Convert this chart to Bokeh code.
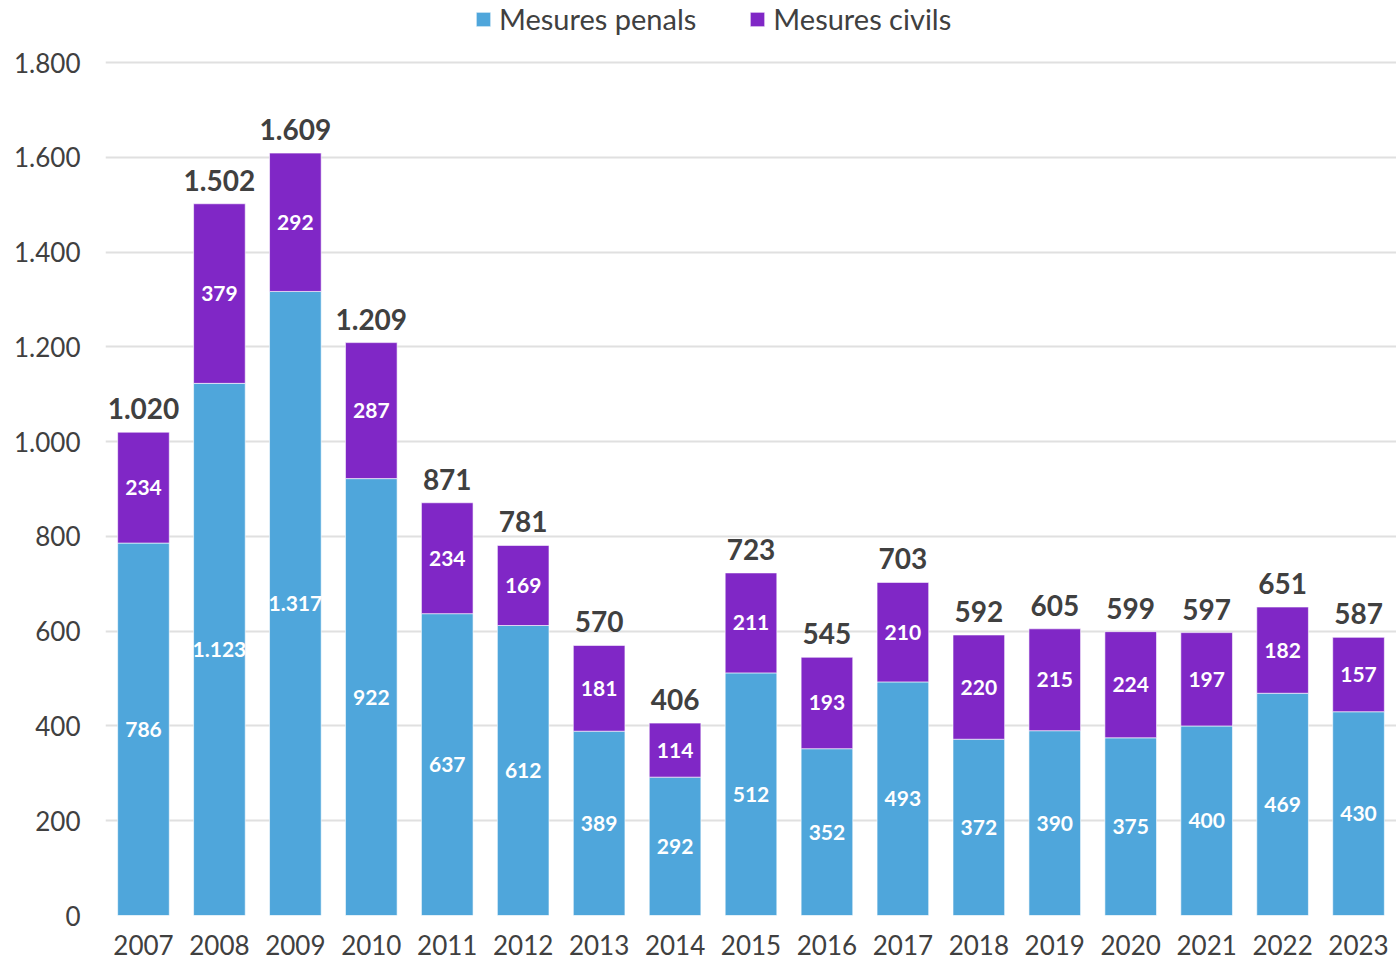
from bokeh.plotting import figure
from bokeh.models import ColumnDataSource, Legend, LegendItem, FixedTicker, FactorRange, Range1d
from bokeh.core.properties import value
from bokeh.embed import file_html
from bokeh.resources import INLINE

years = [str(y) for y in range(2007, 2024)]
penals = [786, 1123, 1317, 922, 637, 612, 389, 292, 512, 352, 493, 372, 390, 375, 400, 469, 430]
civils = [234, 379, 292, 287, 234, 169, 181, 114, 211, 193, 210, 220, 215, 224, 197, 182, 157]
y_ticks = [0, 200, 400, 600, 800, 1000, 1200, 1400, 1600, 1800]
series_names = ["Mesures penals", "Mesures civils"]
colors = ["#4FA6DB", "#8027C6"]

FONT = "Lato"
TXT = "#404040"

def fmt(v):
    return f"{v:,}".replace(",", ".")

totals = [a + b for a, b in zip(penals, civils)]
src = ColumnDataSource(dict(
    year=years,
    penal=penals,
    civil=civils,
    total=totals,
    penal_mid=[a / 2 for a in penals],
    civil_mid=[a + b / 2 for a, b in zip(penals, civils)],
    penal_lbl=[fmt(v) for v in penals],
    civil_lbl=[fmt(v) for v in civils],
    total_lbl=[fmt(v) for v in totals],
))

p = figure(width=1396, height=961, output_backend="svg", toolbar_location=None,
           x_range=FactorRange(*years, range_padding=0), y_range=Range1d(0, 1931),
           min_border_left=105, min_border_right=0, min_border_top=0, min_border_bottom=46)
p.outline_line_color = None
p.background_fill_color = "white"
p.border_fill_color = "white"

r = p.vbar_stack(["penal", "civil"], x="year", width=0.68, source=src, color=colors,
                 line_color="white", line_width=0.6)

p.text(x="year", y="penal_mid", text="penal_lbl", source=src, text_color="white",
       text_font=value(FONT), text_font_size="21px", text_font_style="bold",
       text_align="center", text_baseline="middle")
p.text(x="year", y="civil_mid", text="civil_lbl", source=src, text_color="white",
       text_font=value(FONT), text_font_size="21px", text_font_style="bold",
       text_align="center", text_baseline="middle")
p.text(x="year", y="total", text="total_lbl", source=src, text_color=TXT,
       text_font=value(FONT), text_font_size="28px", text_font_style="bold",
       text_align="center", text_baseline="bottom", y_offset=-13)

p.yaxis.ticker = FixedTicker(ticks=y_ticks)
p.yaxis.major_label_overrides = {t: fmt(t) for t in y_ticks}
for ax in (p.xaxis[0], p.yaxis[0]):
    ax.axis_line_color = None
    ax.major_tick_line_color = None
    ax.minor_tick_line_color = None
    ax.major_label_text_font = FONT
    ax.major_label_text_font_size = "26px"
    ax.major_label_text_color = TXT
p.yaxis.major_label_standoff = 19
p.xaxis.major_label_standoff = 13
p.xgrid.grid_line_color = None
p.ygrid.grid_line_color = "#E0E0E0"
p.ygrid.grid_line_width = 2
p.ygrid.ticker = FixedTicker(ticks=y_ticks)

legend = Legend(items=[LegendItem(label=series_names[0], renderers=[r[0]]),
                       LegendItem(label=series_names[1], renderers=[r[1]])],
                orientation="horizontal", location=(369, 879),
                label_text_font=FONT, label_text_font_size="29px", label_text_color=TXT,
                glyph_width=18, glyph_height=18, label_standoff=7, spacing=52,
                padding=0, margin=0, border_line_color=None, background_fill_alpha=0)
p.add_layout(legend)

open("out.html", "w").write(file_html(p, INLINE))
